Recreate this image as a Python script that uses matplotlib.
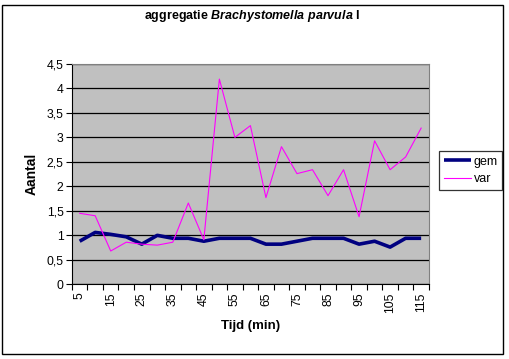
import matplotlib
matplotlib.use("AGG")
import matplotlib.pyplot as plt
from matplotlib.patches import Rectangle
from matplotlib.ticker import FixedLocator, FuncFormatter

# data
tijd = [5, 10, 15, 20, 25, 30, 35, 40, 45, 50, 55, 60,
        65, 70, 75, 80, 85, 90, 95, 100, 105, 110, 115]
gem = [0.88, 1.06, 1.02, 0.97, 0.82, 1.0, 0.94, 0.94, 0.88, 0.94, 0.94, 0.94,
       0.82, 0.82, 0.88, 0.94, 0.94, 0.94, 0.82, 0.88, 0.76, 0.94, 0.94]
var = [1.45, 1.40, 0.68, 0.86, 0.82, 0.80, 0.86, 1.66, 0.91, 4.19, 3.0, 3.24,
       1.77, 2.81, 2.26, 2.34, 1.81, 2.34, 1.38, 2.93, 2.34, 2.60, 3.19]

plt.rcParams['font.family'] = ['Liberation Sans', 'DejaVu Sans']
plt.rcParams['mathtext.fontset'] = 'custom'
plt.rcParams['mathtext.rm'] = 'Liberation Sans:bold'
plt.rcParams['mathtext.it'] = 'Liberation Sans:bold:italic'

fig = plt.figure(figsize=(5.1, 3.59), dpi=100)
ax = fig.add_axes([0.141, 0.208, 0.700, 0.614])
ax.set_facecolor('#c0c0c0')

x = list(range(len(tijd)))
ax.plot(x, gem, color='#000080', lw=2.6, label='gem', solid_capstyle='butt')
ax.plot(x, var, color='#ff00ff', lw=0.8, label='var')

ax.set_xlim(-0.5, len(tijd) - 0.5)
ax.set_ylim(0, 4.5)

# y axis
ax.set_yticks([i * 0.5 for i in range(10)])
ax.yaxis.set_major_formatter(FuncFormatter(
    lambda v, p: ('%g' % v).replace('.', ',')))
ax.yaxis.grid(True, color='black', lw=0.9)
ax.set_axisbelow(True)
ax.tick_params(axis='y', length=4, width=0.8, labelsize=8.8, pad=2)

# x axis: ticks between categories, labels every other category
ax.xaxis.set_major_locator(FixedLocator([i - 0.5 for i in range(len(tijd) + 1)]))
ax.xaxis.set_major_formatter(FuncFormatter(lambda v, p: ''))
ax.xaxis.set_minor_locator(FixedLocator(x[::2]))
ax.xaxis.set_minor_formatter(FuncFormatter(lambda v, p: str(tijd[int(round(v))])))
ax.tick_params(axis='x', which='major', length=4, width=0.8)
ax.tick_params(axis='x', which='minor', length=0, labelsize=8.8, pad=6,
               labelrotation=90)

for s in ['top', 'right']:
    ax.spines[s].set_color('#808080')
for s in ['left', 'bottom']:
    ax.spines[s].set_color('black')

ax.set_xlabel('Tijd (min)', fontsize=9.5, fontweight='bold', labelpad=5)
ax.set_ylabel('Aantal', fontsize=10, fontweight='bold', labelpad=6)

fig.text(0.495, 0.955, r'aggregatie $\it{Brachystomella\ parvula}$ I',
         ha='center', va='center', fontsize=9, fontweight='bold')

leg = fig.legend(loc='center', bbox_to_anchor=(0.923, 0.525), fontsize=9,
                 frameon=True, fancybox=False, edgecolor='black',
                 handlelength=2.2, handletextpad=0.2, borderpad=0.35,
                 labelspacing=0.45, borderaxespad=0)
leg.get_frame().set_linewidth(0.9)

fig.patches.append(Rectangle((2 / 510, 1 - 354 / 359), 501 / 510, 349 / 359,
                             transform=fig.transFigure, fill=False,
                             edgecolor='black', lw=1.0))

fig.savefig('out.png', dpi=100)
